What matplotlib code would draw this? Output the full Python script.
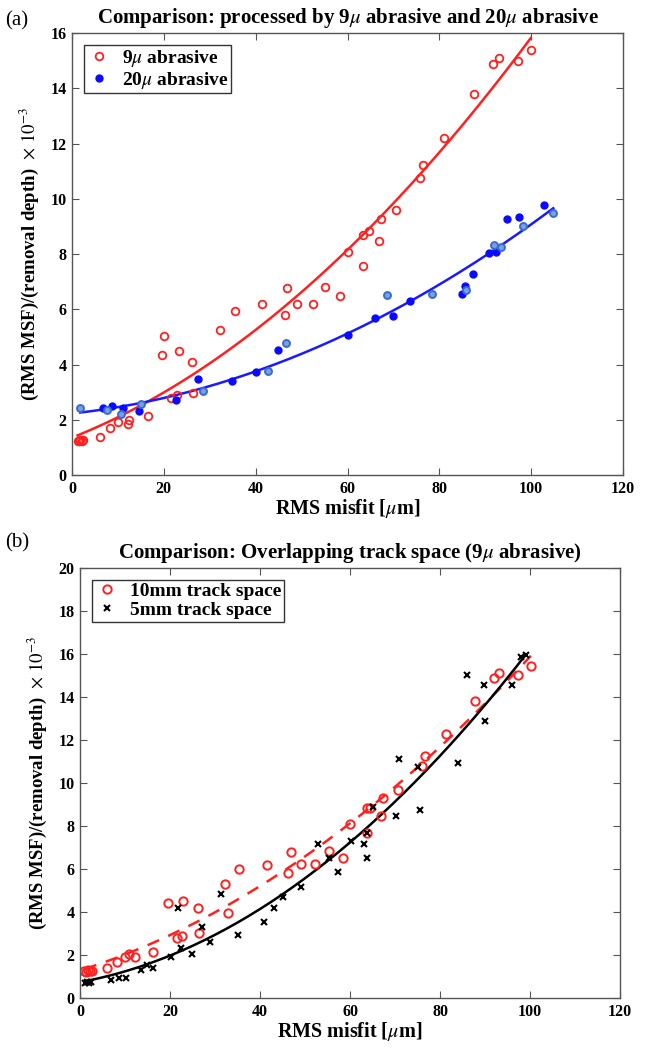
import numpy as np
import matplotlib
matplotlib.use('Agg')
import matplotlib.pyplot as plt

plt.rcParams['font.family'] = ['Liberation Serif', 'DejaVu Serif']
plt.rcParams['mathtext.fontset'] = 'stix'

# (a) 9u vs 20u abrasive
x_9u = [1.2, 1.5, 1.8, 2.1, 2.4, 6.2, 8.3, 10.1, 12.1, 12.5, 16.5,
        19.5, 20.1, 21.5, 22.8, 23.2, 26.2, 26.4, 32.2, 35.4, 41.4, 46.3,
        46.9, 49.1, 52.5, 55.1, 58.3, 60.1, 63.4, 63.4, 64.6, 66.8, 67.3,
        70.6, 75.7, 76.4, 80.9, 87.5, 91.7, 93.0, 97.1, 99.9]
y_9u = [1.25, 1.22, 1.28, 1.24, 1.26, 1.37, 1.69, 1.93, 1.84, 1.99, 2.14,
        4.35, 5.04, 2.78, 2.90, 4.49, 4.10, 2.98, 5.25, 5.95, 6.18, 5.78,
        6.76, 6.18, 6.18, 6.79, 6.49, 8.07, 7.57, 8.70, 8.83, 8.46, 9.26,
        9.60, 10.75, 11.23, 12.19, 13.78, 14.86, 15.09, 14.99, 15.40]

x_20u = [6.7, 8.6, 11.0, 14.5, 22.6, 27.5, 34.9, 40.1, 44.9, 60.1, 65.9,
         69.8, 73.5, 84.9, 85.5, 87.3, 90.9, 92.4, 94.8, 97.3, 102.8]
y_20u = [2.41, 2.50, 2.44, 2.32, 2.71, 3.48, 3.41, 3.72, 4.53, 5.07, 5.70,
         5.76, 6.29, 6.56, 6.86, 7.27, 8.03, 8.07, 9.26, 9.33, 9.77]
# lighter ringed points of the 20u set
x_20u_b = [1.8, 7.6, 10.7, 15.0, 28.6, 42.6, 46.5, 68.6, 78.4, 85.9, 91.9,
           93.5, 98.3, 104.8]
y_20u_b = [2.41, 2.37, 2.21, 2.56, 3.05, 3.78, 4.77, 6.52, 6.57, 6.68, 8.33,
           8.27, 9.00, 9.50]

# (b) track space
x_10mm = [1.0, 1.4, 1.8, 2.2, 2.6, 6.1, 8.2, 10.1, 10.9, 12.2, 16.3,
          19.5, 21.5, 22.7, 23.0, 26.3, 26.4, 32.2, 33.0, 35.4, 41.5, 46.3,
          46.9, 49.1, 52.2, 55.3, 58.5, 60.1, 63.7, 63.7, 64.5, 66.8, 67.4,
          70.6, 75.9, 76.7, 81.3, 87.8, 91.9, 93.2, 97.4, 100.2]
y_10mm = [1.25, 1.22, 1.30, 1.26, 1.24, 1.38, 1.69, 1.92, 2.03, 1.92, 2.12,
          4.40, 2.78, 2.90, 4.51, 4.17, 3.01, 5.29, 3.94, 5.99, 6.19, 5.83,
          6.78, 6.22, 6.22, 6.84, 6.50, 8.08, 7.66, 8.82, 8.85, 8.47, 9.29,
          9.67, 10.79, 11.26, 12.26, 13.81, 14.87, 15.13, 15.00, 15.44]

x_5mm = [1.2, 1.6, 2.0, 2.4, 6.9, 8.7, 10.2, 13.6, 15.0, 16.2, 20.2,
         21.7, 22.4, 24.8, 27.2, 28.9, 31.3, 35.2, 41.0, 43.2, 45.2, 49.1,
         53.0, 55.3, 57.4, 60.2, 63.0, 63.8, 63.7, 65.0, 70.2, 70.9, 75.0,
         75.6, 83.9, 86.1, 89.8, 90.1, 95.9, 98.1, 99.1]
y_5mm = [0.72, 0.74, 0.72, 0.73, 0.84, 0.91, 0.94, 1.30, 1.52, 1.38, 1.89,
         4.17, 2.34, 2.05, 3.32, 2.59, 4.84, 2.95, 3.55, 4.17, 4.71, 5.18,
         7.15, 6.50, 5.87, 7.30, 7.15, 6.50, 7.66, 8.90, 8.48, 11.12, 10.76,
         8.74, 10.95, 15.01, 14.56, 12.90, 14.56, 15.87, 15.95]

ylabel = r'(RMS MSF)/(removal depth)  $\times\ 10^{-3}$'
xlabel = r'RMS misfit [$\mu$m]'


def quad_fit(x, y):
    # 2nd order polynomial fit over the data range
    p = np.polyfit(x, y, 2)
    xx = np.linspace(min(x), max(x), 200)
    return xx, np.polyval(p, xx)


def style_axes(ax, ymax, ystep):
    ax.set_xlim(0, 120)
    ax.set_ylim(0, ymax)
    ax.set_xticks(np.arange(0, 121, 20))
    ax.set_yticks(np.arange(0, ymax + 0.1, ystep))
    ax.tick_params(direction='in', top=True, right=True, length=5,
                   width=0.8, labelsize=11.5, color='#555555', pad=4)
    for lab in ax.get_xticklabels() + ax.get_yticklabels():
        lab.set_fontweight('bold')
    for s in ax.spines.values():
        s.set_color('#555555')
        s.set_linewidth(1.0)
    ax.set_xlabel(xlabel, fontsize=14.5, fontweight='bold', labelpad=0)
    ax.set_ylabel(ylabel, fontsize=13.5, fontweight='bold', labelpad=7)


def add_legend(ax):
    leg = ax.legend(loc='upper left', fancybox=False, framealpha=1,
                    edgecolor='#333333', prop={'weight': 'bold', 'size': 14},
                    handletextpad=0.5, borderpad=0.15, labelspacing=0.05,
                    handlelength=1.3, borderaxespad=0.6)
    leg.get_frame().set_linewidth(1.0)


fig = plt.figure(figsize=(6.46, 10.51), dpi=100)

ax1 = fig.add_axes([0.1115, 0.548, 0.853, 0.4206])
xx, yy = quad_fit(x_9u, y_9u)
ax1.plot(xx, yy, color='#ff2020', lw=1.8)
xx, yy = quad_fit(x_20u + x_20u_b, y_20u + y_20u_b)
ax1.plot(xx, yy, color='#1a1aff', lw=1.8)
ax1.plot(x_9u, y_9u, 'o', mfc='none', mec='#ff2020', mew=1.3, ms=5.5,
         label=r'9$\mu$ abrasive')
ax1.plot(x_20u, y_20u, 'o', color='#0a0aff', ms=5, label=r'20$\mu$ abrasive')
ax1.plot(x_20u_b, y_20u_b, 'o', mfc='#7aa0dd', mec='#3a6cd0', mew=1.4, ms=5)
style_axes(ax1, 16, 2)
ax1.set_title(r'Comparison: processed by 9$\mu$ abrasive and 20$\mu$ abrasive',
              fontsize=15, fontweight='bold', pad=7)
add_legend(ax1)
fig.text(0.008, 0.976, '(a)', fontsize=15)

ax2 = fig.add_axes([0.1238, 0.0504, 0.836, 0.4092])
xx, yy = quad_fit(x_10mm, y_10mm)
ax2.plot(xx, yy, '--', color='#ff2020', lw=1.8, dashes=(5, 4))
xx, yy = quad_fit(x_5mm, y_5mm)
ax2.plot(xx, yy, color='black', lw=1.8)
ax2.plot(x_10mm, y_10mm, 'o', mfc='none', mec='#ff2020', mew=1.4, ms=6,
         label='10mm track space')
ax2.plot(x_5mm, y_5mm, 'x', color='black', mew=1.5, ms=4.5,
         label='5mm track space')
style_axes(ax2, 20, 2)
ax2.set_title(r'Comparison: Overlapping track space (9$\mu$ abrasive)',
              fontsize=15, fontweight='bold', pad=7)
add_legend(ax2)
fig.text(0.008, 0.479, '(b)', fontsize=15)

fig.savefig('out.png', dpi=100)
